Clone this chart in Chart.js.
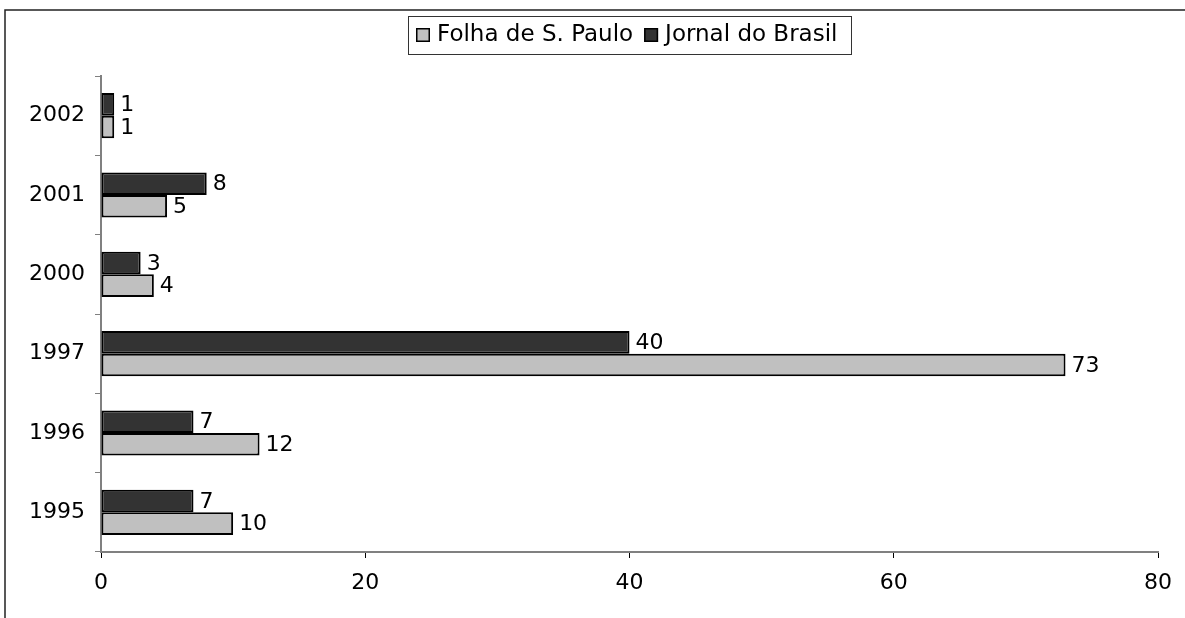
<!DOCTYPE html>
<html>
<head>
<meta charset="utf-8">
<script src="https://cdn.jsdelivr.net/npm/chart.js@4.4.1/dist/chart.umd.min.js"></script>
<style>
  html, body { margin: 0; padding: 0; background: #fff; }
  #wrap { width: 1185px; height: 618px; }
</style>
</head>
<body>
<div id="wrap"><canvas id="myChart" width="1185" height="618"></canvas></div>
<script>
// -------- Data --------
const years = ['1995', '1996', '1997', '2000', '2001', '2002'];
const folha = [10, 12, 73, 4, 5, 1];
const jornal = [7, 7, 40, 3, 8, 1];
const xTicks = [0, 20, 40, 60, 80];

const FONT = '"DejaVu Sans", Verdana, sans-serif';
Chart.defaults.font.family = FONT;
Chart.defaults.font.size = 22;
Chart.defaults.color = '#000';

// outer frame (only top and left edges are visible in the picture)
const framePlugin = {
  id: 'frame',
  beforeDraw(chart) {
    const c = chart.ctx;
    c.save();
    c.strokeStyle = '#222';
    c.lineWidth = 1.5;
    c.beginPath();
    c.moveTo(5, 618);
    c.lineTo(5, 10);
    c.lineTo(1185, 10);
    c.stroke();
    c.restore();
  }
};

// value labels right of each bar
const valueLabels = {
  id: 'valueLabels',
  afterDatasetsDraw(chart) {
    const c = chart.ctx;
    c.save();
    c.font = '22px ' + FONT;
    c.fillStyle = '#000';
    c.textBaseline = 'middle';
    c.textAlign = 'left';
    chart.data.datasets.forEach((ds, i) => {
      chart.getDatasetMeta(i).data.forEach((bar, j) => {
        c.fillText(ds.data[j], bar.x + 6, bar.y + 1);
      });
    });
    c.restore();
  }
};

// boxed legend centred over the plot area, Folha first
const boxedLegend = {
  id: 'boxedLegend',
  afterDraw(chart) {
    const c = chart.ctx;
    const items = chart.data.datasets.slice().reverse();
    c.save();
    c.font = '23px ' + FONT;
    c.textBaseline = 'middle';
    const sw = 14, gap = 7, between = 11, padL = 8, padR = 14;
    const widths = items.map(ds => c.measureText(ds.label).width);
    let total = padL + padR;
    widths.forEach((w, i) => { total += sw + gap + w + (i ? between : 0); });
    const area = chart.chartArea;
    const left = Math.round((area.left + area.right) / 2 - total / 2);
    const top = 16, h = 38, mid = top + h / 2;
    c.strokeStyle = '#333';
    c.lineWidth = 1;
    c.strokeRect(left + 0.5, top + 0.5, Math.round(total), h);
    let x = left + padL;
    items.forEach((ds, i) => {
      if (i) x += between;
      c.fillStyle = ds.backgroundColor;
      c.fillRect(x, mid - 7, sw, sw);
      c.strokeStyle = '#000';
      c.lineWidth = 1.5;
      c.strokeRect(x + 0.75, mid - 7 + 0.75, sw - 1.5, sw - 1.5);
      x += sw + gap;
      c.fillStyle = '#000';
      c.fillText(ds.label, x, mid);
      x += widths[i];
    });
    c.restore();
  }
};

const ctx = document.getElementById('myChart').getContext('2d');

new Chart(ctx, {
  type: 'bar',
  data: {
    labels: years,
    datasets: [
      {
        label: 'Jornal do Brasil',
        data: jornal,
        backgroundColor: '#333333',
        borderColor: '#000',
        borderWidth: 2,
        borderSkipped: false
      },
      {
        label: 'Folha de S. Paulo',
        data: folha,
        backgroundColor: '#c0c0c0',
        borderColor: '#000',
        borderWidth: 2,
        borderSkipped: false
      }
    ]
  },
  options: {
    indexAxis: 'y',
    responsive: false,
    animation: false,
    layout: { padding: { top: 76, right: 27, left: 0, bottom: 0 } },
    plugins: {
      legend: { display: false },
      tooltip: { enabled: false }
    },
    datasets: {
      bar: { categoryPercentage: 0.57, barPercentage: 1 }
    },
    scales: {
      x: {
        min: 0,
        max: 80,
        afterBuildTicks: s => { s.ticks = xTicks.map(v => ({ value: v })); },
        grid: { drawOnChartArea: false, drawTicks: true, tickLength: 6, color: '#000' },
        border: { color: '#808080', width: 2 },
        ticks: { padding: 12, color: '#000' },
        afterFit: s => { s.height = 66; }
      },
      y: {
        reverse: true,
        offset: true,
        grid: { offset: true, drawOnChartArea: false, tickLength: 6, color: '#808080' },
        border: { color: '#808080', width: 2 },
        ticks: { padding: 10, color: '#000' },
        afterFit: s => { s.width = 101; }
      }
    }
  },
  plugins: [framePlugin, valueLabels, boxedLegend]
});
</script>
</body>
</html>
